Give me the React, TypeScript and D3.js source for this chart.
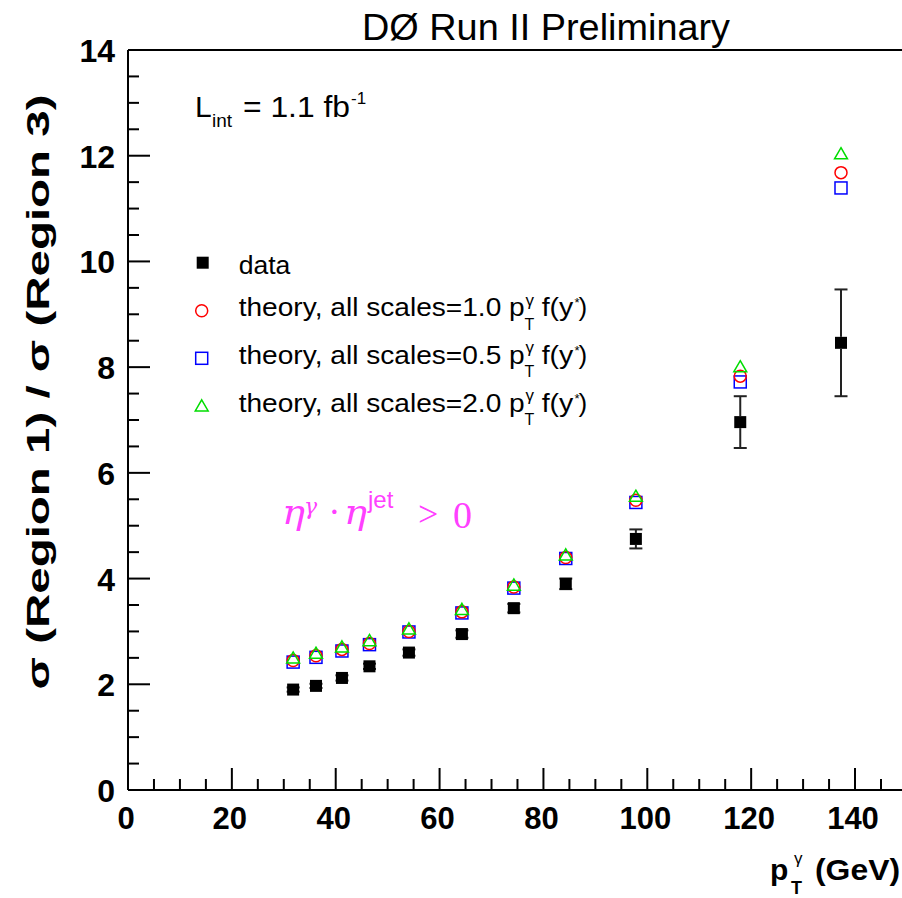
import React from "react";
import * as d3 from "d3";

// Photon pT bin centres (GeV)
const ptBins = [31.8, 36.2, 41.2, 46.5, 54.1, 64.3, 74.3, 84.3, 97.8, 117.9, 137.3];
// Measured ratio sigma(Region 1)/sigma(Region 3) and its uncertainty
const dataRatio = [1.9, 1.97, 2.12, 2.34, 2.6, 2.95, 3.44, 3.9, 4.75, 6.96, 8.46];
const dataError = [0.04, 0.04, 0.05, 0.05, 0.06, 0.07, 0.08, 0.1, 0.18, 0.49, 1.01];
// Theory predictions for three scale choices
const theoryScale10 = [2.45, 2.54, 2.66, 2.77, 3.0, 3.37, 3.84, 4.4, 5.48, 7.83, 11.68];
const theoryScale05 = [2.42, 2.51, 2.63, 2.75, 2.99, 3.35, 3.82, 4.38, 5.44, 7.72, 11.39];
const theoryScale20 = [2.49, 2.58, 2.7, 2.82, 3.04, 3.41, 3.87, 4.44, 5.55, 8.0, 12.03];

const xMajorTicks = [0, 20, 40, 60, 80, 100, 120, 140];
const yMajorTicks = [0, 2, 4, 6, 8, 10, 12, 14];
const legendScales = ["1.0", "0.5", "2.0"];

const W = 902;
const H = 898;
const FONT = "'Liberation Sans', Arial, Helvetica, sans-serif";
const SERIF = "'DejaVu Serif', 'Liberation Serif', serif";

const x = d3.scaleLinear().domain([0, 150]).range([128, 128 + 150 * 5.193]);
const y = d3.scaleLinear().domain([0, 14]).range([790, 50]);

const MS = 12; // marker size

function Square({ cx, cy, fill, stroke }: { cx: number; cy: number; fill: string; stroke: string }) {
  return (
    <rect
      x={cx - MS / 2}
      y={cy - MS / 2}
      width={MS}
      height={MS}
      fill={fill}
      stroke={stroke}
      strokeWidth={fill === "none" ? 1.5 : 0}
    />
  );
}

function Circle({ cx, cy }: { cx: number; cy: number }) {
  return <circle cx={cx} cy={cy} r={MS / 2} fill="none" stroke="#ff0000" strokeWidth={1.5} />;
}

function Triangle({ cx, cy }: { cx: number; cy: number }) {
  const tri = d3.symbol(d3.symbolTriangle, 72)();
  return <path d={tri || ""} transform={`translate(${cx},${cy + 1})`} fill="none" stroke="#00dd00" strokeWidth={1.5} />;
}

export default function App() {
  const xMinor = d3.range(0, 151, 5).filter((v) => v % 20 !== 0);
  const yMinor = d3.range(0, 14.01, 0.5).filter((v) => v % 2 !== 0);
  const x0 = x(0);
  const x1 = x(150);
  const yB = y(0);
  const yT = y(14);

  const legendY = [262.7, 310.7, 358.3, 406.2];

  return (
    <svg
      width={W}
      height={H}
      viewBox={`0 0 ${W} ${H}`}
      style={{ position: "absolute", left: 0, top: 0, background: "#fff" }}
      fontFamily={FONT}
    >
      <rect x={0} y={0} width={W} height={H} fill="#fff" />

      {/* title */}
      <text x={362} y={40} fontSize={37} textLength={368} lengthAdjust="spacingAndGlyphs">
        DØ Run II Preliminary
      </text>

      {/* frame */}
      <g stroke="#000" strokeWidth={2} fill="none">
        <line x1={x0} x2={x1} y1={yT} y2={yT} />
        <line x1={x0} x2={x1} y1={yB} y2={yB} />
        <line x1={x0} x2={x0} y1={yT} y2={yB} />
        <line x1={x1} x2={x1} y1={yT} y2={yB} />
      </g>

      {/* ticks */}
      <g stroke="#000" strokeWidth={2}>
        {xMajorTicks.map((v) => (
          <line key={"xM" + v} x1={x(v)} x2={x(v)} y1={yB} y2={yB - 22} />
        ))}
        {xMinor.map((v) => (
          <line key={"xm" + v} x1={x(v)} x2={x(v)} y1={yB} y2={yB - 11} />
        ))}
        {yMajorTicks.map((v) => (
          <line key={"yM" + v} x1={x0} x2={x0 + 22} y1={y(v)} y2={y(v)} />
        ))}
        {yMinor.map((v) => (
          <line key={"ym" + v} x1={x0} x2={x0 + 11} y1={y(v)} y2={y(v)} />
        ))}
      </g>

      {/* tick labels */}
      <g fontWeight="bold" fontSize={31}>
        {xMajorTicks.map((v) => (
          <text key={"xl" + v} x={x(v) - 2} y={829} textAnchor="middle">
            {v}
          </text>
        ))}
      </g>
      <g fontWeight="bold" fontSize={32}>
        {yMajorTicks.map((v) => (
          <text key={"yl" + v} x={115} y={y(v) + 12} textAnchor="end">
            {v}
          </text>
        ))}
      </g>

      {/* axis titles */}
      <text
        transform="translate(49,392) rotate(-90)"
        textAnchor="middle"
        fontWeight="bold"
        fontSize={31}
        textLength={595}
        lengthAdjust="spacingAndGlyphs"
      >
        σ (Region 1) / σ (Region 3)
      </text>
      <g fontWeight="bold">
        <text x={770} y={880} fontSize={30}>p</text>
        <text x={791} y={894} fontSize={18}>T</text>
        <text x={794} y={864} fontSize={17} fontWeight="normal">γ</text>
        <text x={815} y={880} fontSize={30} textLength={85} lengthAdjust="spacingAndGlyphs">(GeV)</text>
      </g>

      {/* luminosity label */}
      <g>
        <text x={195} y={117} fontSize={30}>L</text>
        <text x={212} y={127} fontSize={19}>int</text>
        <text x={243} y={117} fontSize={30} textLength={107} lengthAdjust="spacingAndGlyphs">= 1.1 fb</text>
        <text x={351} y={104} fontSize={17}>-1</text>
      </g>

      {/* selection label */}
      <g fill="#ff40ff" fontFamily={SERIF}>
        <text x={282} y={524} fontSize={34} fontStyle="italic" textLength={23} lengthAdjust="spacingAndGlyphs">η</text>
        <text x={304} y={514} fontSize={22} fontStyle="italic">γ</text>
        <text x={329} y={524} fontSize={34}>·</text>
        <text x={344} y={524} fontSize={34} fontStyle="italic" textLength={23} lengthAdjust="spacingAndGlyphs">η</text>
        <text x={368} y={508} fontSize={24} fontFamily={FONT}>jet</text>
        <text x={418} y={526} fontSize={36} fontFamily="'Liberation Serif', serif">&gt;</text>
        <text x={453} y={528} fontSize={38} fontFamily="'Liberation Serif', serif">0</text>
      </g>

      {/* legend */}
      <g>
        <Square cx={202.7} cy={legendY[0]} fill="#000" stroke="#000" />
        <text x={238.7} y={274.3} fontSize={26} textLength={51.7} lengthAdjust="spacingAndGlyphs">data</text>
        <Circle cx={201.7} cy={legendY[1]} />
        <Square cx={201.7} cy={legendY[2]} fill="none" stroke="#0000ff" />
        <Triangle cx={201.7} cy={legendY[3]} />
        {legendScales.map((s, i) => {
          const b = legendY[i + 1] + 5.5;
          return (
            <g key={"lg" + s}>
              <text x={238.7} y={b} fontSize={26} textLength={286} lengthAdjust="spacingAndGlyphs">
                {`theory, all scales=${s} p`}
              </text>
              <text x={524.5} y={b + 13.5} fontSize={16}>T</text>
              <text x={525.5} y={b - 10.5} fontSize={17}>γ</text>
              <text x={541.7} y={b} fontSize={26} textLength={31.6} lengthAdjust="spacingAndGlyphs">f(y</text>
              <text x={574.5} y={b - 9} fontSize={13}>*</text>
              <text x={578.5} y={b} fontSize={26}>)</text>
            </g>
          );
        })}
      </g>

      {/* data error bars */}
      <g stroke="#222" strokeWidth={2}>
        {ptBins.map((p, i) => {
          const cx = x(p);
          const top = y(dataRatio[i] + dataError[i]);
          const bot = y(dataRatio[i] - dataError[i]);
          const cy = y(dataRatio[i]);
          return (
            <g key={"eb" + i}>
              {top < cy - MS / 2 && <line x1={cx} x2={cx} y1={top} y2={cy - MS / 2} />}
              {bot > cy + MS / 2 && <line x1={cx} x2={cx} y1={cy + MS / 2} y2={bot} />}
              <line x1={cx - 6.5} x2={cx + 6.5} y1={top} y2={top} />
              <line x1={cx - 6.5} x2={cx + 6.5} y1={bot} y2={bot} />
            </g>
          );
        })}
      </g>

      {/* theory markers */}
      {ptBins.map((p, i) => (
        <g key={"th" + i}>
          <Square cx={x(p)} cy={y(theoryScale05[i])} fill="none" stroke="#0000ff" />
          <Circle cx={x(p)} cy={y(theoryScale10[i])} />
          <Triangle cx={x(p)} cy={y(theoryScale20[i])} />
        </g>
      ))}

      {/* data markers */}
      {ptBins.map((p, i) => (
        <Square key={"d" + i} cx={x(p)} cy={y(dataRatio[i])} fill="#000" stroke="#000" />
      ))}
    </svg>
  );
}
